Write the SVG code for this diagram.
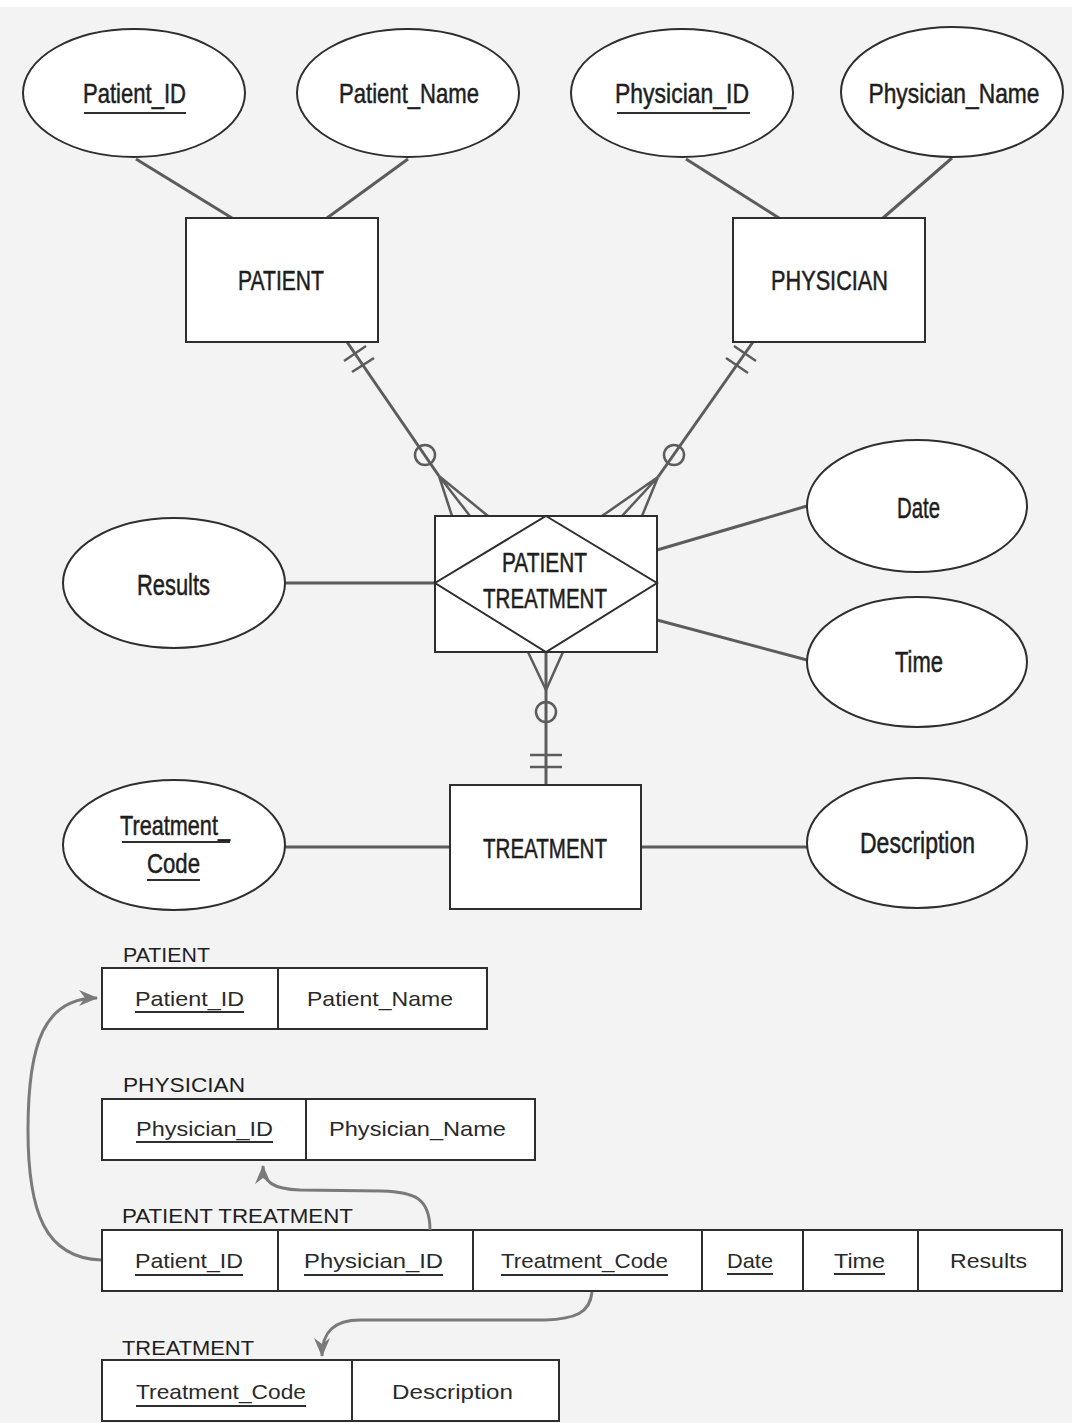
<svg xmlns="http://www.w3.org/2000/svg" width="1072" height="1423" viewBox="0 0 1072 1423">
  <style>
    .er-shape { fill: #ffffff; stroke: #2e2e2e; stroke-width: 2; }
    .er-text { font-family: "Liberation Sans", Arial, sans-serif; font-size: 28px; fill: #1e1e1e; stroke: #1e1e1e; stroke-width: 0.5; text-anchor: middle; }
    .er-text-lg { font-family: "Liberation Sans", Arial, sans-serif; font-size: 29px; fill: #1e1e1e; stroke: #1e1e1e; stroke-width: 0.5; text-anchor: middle; }
    .key { stroke: #2e2e2e; stroke-width: 2; }
    .link { fill: none; stroke: #5c5c5c; stroke-width: 3; }
    .mark { fill: none; stroke: #5c5c5c; stroke-width: 2.5; }
    .tbl { fill: #ffffff; stroke: #2e2e2e; stroke-width: 2; }
    .tbl-title { font-family: "Liberation Sans", Arial, sans-serif; font-size: 21px; fill: #1e1e1e; }
    .cell { font-family: "Liberation Sans", Arial, sans-serif; font-size: 21px; fill: #2a2a2a; }
    .fk { fill: none; stroke: #7a7a7a; stroke-width: 3; }
  </style>
  <defs>
    <marker id="arrow" viewBox="-20 -10 22 20" markerWidth="22" markerHeight="20" refX="0" refY="0" orient="auto" markerUnits="userSpaceOnUse">
      <path d="M1,0 L-18,-8 L-12,0 L-18,8 Z" fill="#7a7a7a"/>
    </marker>
  </defs>

  <!-- paper -->
  <rect x="0" y="0" width="1072" height="1423" fill="#f3f3f3"/>
  <rect x="0" y="0" width="1072" height="7" fill="#ffffff"/>

  <!-- ER connectors -->
  <g id="connectors">
    <!-- attributes -->
    <line class="link" x1="136" y1="159" x2="232" y2="218"/>
    <line class="link" x1="408" y1="159" x2="327" y2="218"/>
    <line class="link" x1="686" y1="159" x2="779" y2="218"/>
    <line class="link" x1="952" y1="158" x2="883" y2="218"/>
    <line class="link" x1="285" y1="583" x2="435" y2="583"/>
    <line class="link" x1="657" y1="550" x2="807" y2="506"/>
    <line class="link" x1="657" y1="620" x2="807" y2="660"/>
    <line class="link" x1="285" y1="847" x2="450" y2="847"/>
    <line class="link" x1="641" y1="847" x2="807" y2="847"/>

    <!-- PATIENT to PATIENT TREATMENT: one and only one / zero or many -->
    <line class="link" x1="347" y1="342" x2="439" y2="476"/>
    <line class="mark" x1="344" y1="361" x2="366" y2="346"/>
    <line class="mark" x1="352" y1="372" x2="374" y2="358"/>
    <circle class="mark" cx="425" cy="455" r="10"/>
    <path class="mark" d="M439,476 L452,516 M439,476 L470,516 M439,476 L488,516"/>

    <!-- PHYSICIAN to PATIENT TREATMENT -->
    <line class="link" x1="753" y1="342" x2="658" y2="477"/>
    <line class="mark" x1="734" y1="346" x2="756" y2="361"/>
    <line class="mark" x1="726" y1="358" x2="748" y2="373"/>
    <circle class="mark" cx="674" cy="455" r="10"/>
    <path class="mark" d="M658,477 L642,516 M658,477 L622,516 M658,477 L602,516"/>

    <!-- TREATMENT to PATIENT TREATMENT -->
    <line class="link" x1="546" y1="652" x2="546" y2="785"/>
    <path class="mark" d="M546,690 L528,652 M546,690 L563,652"/>
    <circle class="mark" cx="546" cy="712" r="10"/>
    <line class="mark" x1="530" y1="755" x2="562" y2="755"/>
    <line class="mark" x1="530" y1="767" x2="562" y2="767"/>
  </g>

  <!-- attributes -->
  <g id="attr-patient-id">
    <ellipse class="er-shape" cx="134" cy="93" rx="111" ry="64"/>
    <text class="er-text" x="134.5" y="103" textLength="103" lengthAdjust="spacingAndGlyphs">Patient_ID</text>
    <line class="key" x1="84" y1="113" x2="186" y2="113"/>
  </g>
  <g id="attr-patient-name">
    <ellipse class="er-shape" cx="408" cy="93" rx="111" ry="64"/>
    <text class="er-text" x="409" y="103" textLength="140" lengthAdjust="spacingAndGlyphs">Patient_Name</text>
  </g>
  <g id="attr-physician-id">
    <ellipse class="er-shape" cx="682" cy="93" rx="111" ry="64"/>
    <text class="er-text" x="682" y="103" textLength="134" lengthAdjust="spacingAndGlyphs">Physician_ID</text>
    <line class="key" x1="617" y1="113" x2="750" y2="113"/>
  </g>
  <g id="attr-physician-name">
    <ellipse class="er-shape" cx="952" cy="92" rx="111" ry="65"/>
    <text class="er-text" x="954" y="103" font-size="26" textLength="171" lengthAdjust="spacingAndGlyphs">Physician_Name</text>
  </g>
  <g id="attr-results">
    <ellipse class="er-shape" cx="174" cy="583" rx="111" ry="65"/>
    <text class="er-text-lg" x="173.5" y="595" textLength="73" lengthAdjust="spacingAndGlyphs">Results</text>
  </g>
  <g id="attr-date">
    <ellipse class="er-shape" cx="917" cy="506" rx="110" ry="66"/>
    <text class="er-text-lg" x="918.5" y="518" textLength="43" lengthAdjust="spacingAndGlyphs">Date</text>
  </g>
  <g id="attr-time">
    <ellipse class="er-shape" cx="917" cy="662" rx="110" ry="65"/>
    <text class="er-text-lg" x="919" y="672" textLength="48" lengthAdjust="spacingAndGlyphs">Time</text>
  </g>
  <g id="attr-treatment-code">
    <ellipse class="er-shape" cx="174" cy="845" rx="111" ry="65"/>
    <text class="er-text" x="175" y="835" textLength="110" lengthAdjust="spacingAndGlyphs">Treatment_</text>
    <line class="key" x1="122" y1="842" x2="230" y2="842"/>
    <text class="er-text" x="173.5" y="873" textLength="53" lengthAdjust="spacingAndGlyphs">Code</text>
    <line class="key" x1="147" y1="880" x2="200" y2="880"/>
  </g>
  <g id="attr-description">
    <ellipse class="er-shape" cx="917" cy="843" rx="110" ry="65"/>
    <text class="er-text-lg" x="917.5" y="853" textLength="115" lengthAdjust="spacingAndGlyphs">Description</text>
  </g>

  <!-- entities -->
  <g id="entity-patient">
    <rect class="er-shape" x="186" y="218" width="192" height="124"/>
    <text class="er-text" x="281" y="290" textLength="86" lengthAdjust="spacingAndGlyphs">PATIENT</text>
  </g>
  <g id="entity-physician">
    <rect class="er-shape" x="733" y="218" width="192" height="124"/>
    <text class="er-text" x="829.5" y="290" textLength="117" lengthAdjust="spacingAndGlyphs">PHYSICIAN</text>
  </g>
  <g id="entity-treatment">
    <rect class="er-shape" x="450" y="785" width="191" height="124"/>
    <text class="er-text" x="545" y="858" textLength="124" lengthAdjust="spacingAndGlyphs">TREATMENT</text>
  </g>

  <!-- associative entity -->
  <g id="entity-patient-treatment">
    <rect class="er-shape" x="435" y="516" width="222" height="136"/>
    <polygon fill="none" stroke="#2e2e2e" stroke-width="2" points="546,516 657,583 546,652 435,583"/>
    <text class="er-text" x="544.5" y="572" textLength="85" lengthAdjust="spacingAndGlyphs">PATIENT</text>
    <text class="er-text" x="545" y="608" textLength="124" lengthAdjust="spacingAndGlyphs">TREATMENT</text>
  </g>

  <!-- relational tables -->
  <g id="table-patient">
    <text class="tbl-title" x="123" y="962" textLength="87" lengthAdjust="spacingAndGlyphs">PATIENT</text>
    <rect class="tbl" x="102" y="968" width="385" height="61"/>
    <line class="key" x1="278" y1="968" x2="278" y2="1029"/>
    <text class="cell" x="135" y="1006" textLength="109" lengthAdjust="spacingAndGlyphs">Patient_ID</text>
    <line class="key" x1="135" y1="1012" x2="244" y2="1012"/>
    <text class="cell" x="307" y="1006" textLength="146" lengthAdjust="spacingAndGlyphs">Patient_Name</text>
  </g>

  <g id="table-physician">
    <text class="tbl-title" x="123" y="1092" textLength="122" lengthAdjust="spacingAndGlyphs">PHYSICIAN</text>
    <rect class="tbl" x="102" y="1099" width="433" height="61"/>
    <line class="key" x1="306" y1="1099" x2="306" y2="1160"/>
    <text class="cell" x="136" y="1136" textLength="137" lengthAdjust="spacingAndGlyphs">Physician_ID</text>
    <line class="key" x1="136" y1="1142" x2="273" y2="1142"/>
    <text class="cell" x="329" y="1136" textLength="177" lengthAdjust="spacingAndGlyphs">Physician_Name</text>
  </g>

  <g id="table-patient-treatment">
    <text class="tbl-title" x="122" y="1223" textLength="231" lengthAdjust="spacingAndGlyphs">PATIENT TREATMENT</text>
    <rect class="tbl" x="102" y="1230" width="960" height="61"/>
    <line class="key" x1="278" y1="1230" x2="278" y2="1291"/>
    <line class="key" x1="473" y1="1230" x2="473" y2="1291"/>
    <line class="key" x1="702" y1="1230" x2="702" y2="1291"/>
    <line class="key" x1="803" y1="1230" x2="803" y2="1291"/>
    <line class="key" x1="918" y1="1230" x2="918" y2="1291"/>
    <text class="cell" x="135" y="1268" textLength="108" lengthAdjust="spacingAndGlyphs">Patient_ID</text>
    <line class="key" x1="135" y1="1275" x2="243" y2="1275"/>
    <text class="cell" x="304" y="1268" textLength="139" lengthAdjust="spacingAndGlyphs">Physician_ID</text>
    <line class="key" x1="304" y1="1275" x2="443" y2="1275"/>
    <text class="cell" x="501" y="1268" textLength="167" lengthAdjust="spacingAndGlyphs">Treatment_Code</text>
    <line class="key" x1="501" y1="1275" x2="668" y2="1275"/>
    <text class="cell" x="727" y="1268" textLength="46" lengthAdjust="spacingAndGlyphs">Date</text>
    <line class="key" x1="727" y1="1274" x2="773" y2="1274"/>
    <text class="cell" x="834" y="1268" textLength="51" lengthAdjust="spacingAndGlyphs">Time</text>
    <line class="key" x1="834" y1="1274" x2="885" y2="1274"/>
    <text class="cell" x="950" y="1268" textLength="77" lengthAdjust="spacingAndGlyphs">Results</text>
  </g>

  <g id="table-treatment">
    <text class="tbl-title" x="122" y="1355" textLength="132" lengthAdjust="spacingAndGlyphs">TREATMENT</text>
    <rect class="tbl" x="102" y="1360" width="457" height="61"/>
    <line class="key" x1="352" y1="1360" x2="352" y2="1421"/>
    <text class="cell" x="136" y="1399" textLength="170" lengthAdjust="spacingAndGlyphs">Treatment_Code</text>
    <line class="key" x1="136" y1="1406" x2="306" y2="1406"/>
    <text class="cell" x="392" y="1399" textLength="121" lengthAdjust="spacingAndGlyphs">Description</text>
  </g>

  <!-- foreign key references -->
  <g id="references">
    <path class="fk" marker-end="url(#arrow)" d="M101,1260 C45,1258 28,1212 28,1130 C28,1042 45,998 97,998"/>
    <path class="fk" marker-end="url(#arrow)" d="M430,1230 C430,1197 413,1192 382,1191 L300,1190 C273,1189 263,1182 263,1166"/>
    <path class="fk" marker-end="url(#arrow)" d="M592,1292 C590,1313 575,1319 545,1320 L360,1320 C334,1320 322,1332 322,1356"/>
  </g>
</svg>
